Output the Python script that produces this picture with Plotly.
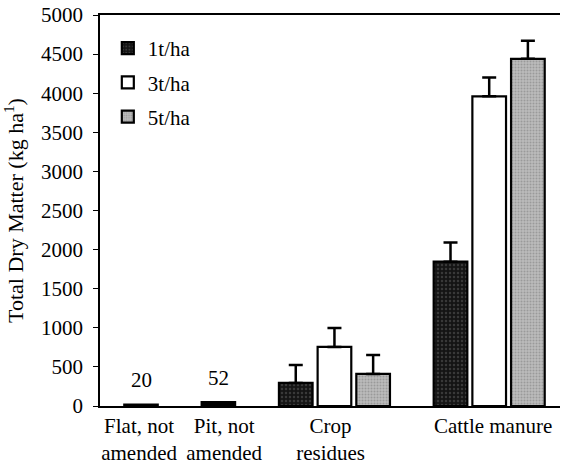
import plotly.graph_objects as go

# ---- data ----
group_labels = ["Flat, not<br>amended", "Pit, not<br>amended", "Crop<br>residues", "Cattle manure"]
control_names = ["Flat, not amended", "Pit, not amended"]
control_values = [20, 52]
series_names = ["1t/ha", "3t/ha", "5t/ha"]
crop_values = [295, 755, 410]
crop_errors = [230, 243, 243]
manure_values = [1845, 3960, 4440]
manure_errors = [245, 240, 230]
y_ticks = [0, 500, 1000, 1500, 2000, 2500, 3000, 3500, 4000, 4500, 5000]

# ---- layout slots ----
control_pos = [1, 3]
crop_pos = [5, 6, 7]
manure_pos = [9, 10, 11]
label_pos = [0.95, 3.15, 5.9, 10.1]
bar_w = 0.87

FONT = "Liberation Serif"
FS = 21
styles = [
    dict(color="#141414", pattern=dict(shape=".", fgcolor="#5e5e5e", bgcolor="#141414", size=4, solidity=0.3)),
    dict(color="#ffffff", pattern=None),
    dict(color="#b0b0b0", pattern=dict(shape=".", fgcolor="#777777", bgcolor="#bdbdbd", size=3, solidity=0.4)),
]

fig = go.Figure()

fig.add_trace(go.Bar(
    x=control_pos, y=control_values, width=bar_w,
    marker=dict(color="#000000", line=dict(color="#000000", width=2)),
    showlegend=False, name="control",
))

for i, name in enumerate(series_names):
    st = styles[i]
    marker = dict(color=st["color"], line=dict(color="#000000", width=2.2))
    if st["pattern"] is not None:
        marker["pattern"] = st["pattern"]
    fig.add_trace(go.Bar(
        x=[crop_pos[i], manure_pos[i]],
        y=[crop_values[i], manure_values[i]],
        width=bar_w,
        marker=marker,
        error_y=dict(type="data", symmetric=False,
                     array=[crop_errors[i], manure_errors[i]],
                     arrayminus=[0, 0], color="#000000", thickness=2.5, width=7),
        name=name, legendgroup=name,
    ))

for xp, v, lab in zip(control_pos, control_values, control_values):
    fig.add_annotation(x=xp, y=v, text=str(lab), showarrow=False,
                       yanchor="bottom", yshift=10,
                       font=dict(family=FONT, size=FS, color="#000"))

fig.update_layout(
    width=564, height=464,
    margin=dict(l=100, r=4, t=15, b=58),
    paper_bgcolor="white", plot_bgcolor="white",
    barmode="overlay",
    font=dict(family=FONT, size=FS, color="#000"),
    showlegend=True,
    legend=dict(x=0.017, y=0.967, xanchor="left", yanchor="top",
                bgcolor="rgba(0,0,0,0)", tracegroupgap=4,
                font=dict(family=FONT, size=FS, color="#000"),
                itemwidth=30),
    xaxis=dict(range=[-0.06, 11.83], tickvals=label_pos, ticktext=group_labels,
               showline=True, linecolor="#000", linewidth=1.5, mirror=True,
               ticks="", showgrid=False, zeroline=False, automargin=False,
               ticklabeloverflow="allow",
               tickfont=dict(family=FONT, size=FS, color="#000")),
    yaxis=dict(range=[0, 5000], tickvals=y_ticks, showline=True, linecolor="#000",
               linewidth=1.5, ticks="outside", ticklen=5, tickwidth=1.2, tickcolor="#000",
               showgrid=False, zeroline=False, ticklabelstandoff=6, automargin=False,
               ticklabeloverflow="allow",
               tickfont=dict(family=FONT, size=FS, color="#000"),
               title=dict(text="Total Dry Matter (kg ha<sup>1</sup>)", standoff=12,
                          font=dict(family=FONT, size=22, color="#000"))),
)

fig.write_html("out.html",
               config={"displayModeBar": False},
               post_script="document.body.style.margin='0';document.body.style.overflow='hidden';")
